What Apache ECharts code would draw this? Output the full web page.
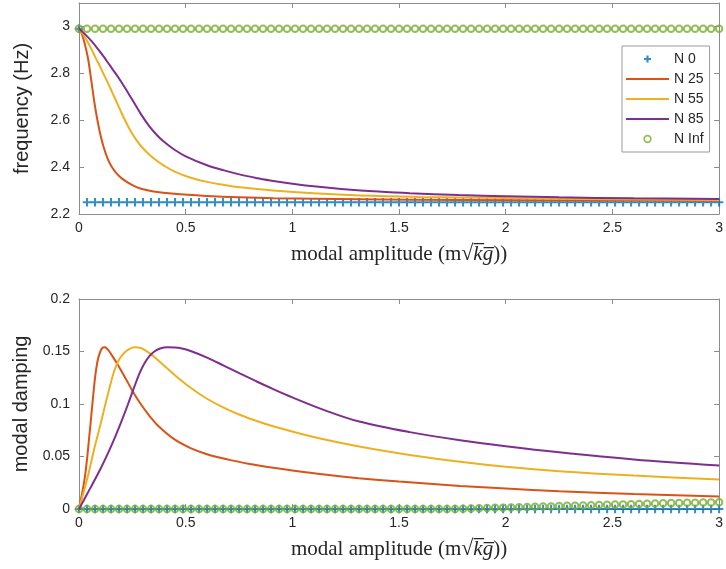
<!DOCTYPE html>
<html>
<head>
<meta charset="utf-8">
<script src="https://cdn.jsdelivr.net/npm/echarts/dist/echarts.min.js"></script>
<style>
html,body{margin:0;padding:0;background:#fff;}
#chart{width:726px;height:569px;}
</style>
</head>
<body>
<div id="chart"></div>
<script>
// ---------- data ----------
const xTicks = [0, 0.5, 1, 1.5, 2, 2.5, 3];
const seriesNames = ['N 0', 'N 25', 'N 55', 'N 85', 'N Inf'];

const markerX = [0,0.0375,0.075,0.1125,0.15,0.1875,0.225,0.2625,0.3,0.3375,0.375,0.4125,0.45,0.4875,0.525,0.5625,0.6,0.6375,0.675,0.7125,0.75,0.7875,0.825,0.8625,0.9,0.9375,0.975,1.0125,1.05,1.0875,1.125,1.1625,1.2,1.2375,1.275,1.3125,1.35,1.3875,1.425,1.4625,1.5,1.5375,1.575,1.6125,1.65,1.6875,1.725,1.7625,1.8,1.8375,1.875,1.9125,1.95,1.9875,2.025,2.0625,2.1,2.1375,2.175,2.2125,2.25,2.2875,2.325,2.3625,2.4,2.4375,2.475,2.5125,2.55,2.5875,2.625,2.6625,2.7,2.7375,2.775,2.8125,2.85,2.8875,2.925,2.9625,3];

// frequency, N 0 (markers)
const freqN0 = [2.99,2.25,2.25,2.25,2.25,2.25,2.25,2.25,2.25,2.25,2.25,2.25,2.25,2.25,2.25,2.25,2.25,2.25,2.25,2.25,2.25,2.25,2.25,2.25,2.25,2.25,2.25,2.25,2.25,2.25,2.25,2.25,2.25,2.25,2.25,2.25,2.25,2.25,2.25,2.25,2.25,2.25,2.25,2.25,2.25,2.25,2.25,2.25,2.25,2.25,2.25,2.25,2.25,2.25,2.25,2.25,2.25,2.25,2.25,2.25,2.25,2.25,2.25,2.25,2.25,2.25,2.25,2.25,2.25,2.25,2.25,2.25,2.25,2.25,2.25,2.25,2.25,2.25,2.25,2.25,2.25];
// frequency, N Inf (markers)
const freqNInf = [2.99,2.99,2.99,2.99,2.99,2.99,2.99,2.99,2.99,2.99,2.99,2.99,2.99,2.99,2.99,2.99,2.99,2.99,2.99,2.99,2.99,2.99,2.99,2.99,2.99,2.99,2.99,2.99,2.99,2.99,2.99,2.99,2.99,2.99,2.99,2.99,2.99,2.99,2.99,2.99,2.99,2.99,2.99,2.99,2.99,2.99,2.99,2.99,2.99,2.99,2.99,2.99,2.99,2.99,2.99,2.99,2.99,2.99,2.99,2.99,2.99,2.99,2.99,2.99,2.99,2.99,2.99,2.99,2.99,2.99,2.99,2.99,2.99,2.99,2.99,2.99,2.99,2.99,2.99,2.99,2.99];
// damping, N 0 (markers)
const dampN0 = [0,0,0,0,0,0,0,0,0,0,0,0,0,0,0,0,0,0,0,0,0,0,0,0,0,0,0,0,0,0,0,0,0,0,0,0,0,0,0,0,0,0,0,0,0,0,0,0,0,0,0,0,0,0,0,0,0,0,0,0,0,0,0,0,0,0,0,0,0,0,0,0,0,0,0,0,0,0,0,0,0];
// damping, N Inf (markers)
const dampNInf = [0,0,0,0,0,0,0,0,0,0,0,0,0,0,0,0,0,0,0,0,0,0,0,0,0,0,0,0,0,0,0,0,0,0,0,0,0,0,0,0,0,0,0,0,0,0,0,0,0.0003,0.0005,0.0007,0.0009,0.0011,0.0013,0.0015,0.0017,0.0019,0.0021,0.0023,0.0025,0.0028,0.003,0.0032,0.0034,0.0036,0.0038,0.004,0.0042,0.0044,0.0046,0.0048,0.005,0.0052,0.0054,0.0056,0.0057,0.0059,0.006,0.0062,0.0063,0.0065];

// frequency curves [x, y]
const freqN25 = [[0,2.99],[0.01,2.975],[0.02,2.95],[0.03,2.915],[0.043,2.86],[0.059,2.76],[0.074,2.665],[0.086,2.602],[0.098,2.548],[0.115,2.487],[0.136,2.432],[0.155,2.399],[0.175,2.374],[0.2,2.352],[0.25,2.323],[0.291,2.308],[0.35,2.296],[0.446,2.286],[0.6,2.277],[0.75,2.271],[0.91,2.267],[1.31,2.263],[1.8,2.26],[2.4,2.258],[3,2.257]];
const freqN55 = [[0,2.99],[0.02,2.965],[0.04,2.935],[0.059,2.902],[0.078,2.866],[0.098,2.83],[0.117,2.794],[0.136,2.758],[0.155,2.72],[0.175,2.68],[0.195,2.64],[0.214,2.603],[0.233,2.569],[0.252,2.539],[0.27,2.514],[0.291,2.489],[0.33,2.453],[0.368,2.425],[0.4,2.405],[0.446,2.382],[0.52,2.356],[0.6,2.337],[0.68,2.324],[0.756,2.314],[0.91,2.3],[1.1,2.288],[1.32,2.279],[1.6,2.273],[2,2.268],[2.5,2.263],[3,2.26]];
const freqN85 = [[0,2.99],[0.03,2.965],[0.059,2.937],[0.09,2.902],[0.115,2.872],[0.136,2.845],[0.16,2.814],[0.19,2.775],[0.214,2.741],[0.25,2.687],[0.291,2.625],[0.33,2.574],[0.368,2.534],[0.4,2.507],[0.446,2.475],[0.5,2.446],[0.6,2.408],[0.68,2.386],[0.756,2.368],[0.83,2.354],[0.91,2.341],[1.1,2.318],[1.32,2.3],[1.55,2.289],[1.78,2.281],[2,2.276],[2.25,2.271],[2.6,2.267],[3,2.264]];

// damping curves [x, y]
const dampN25 = [[0,0],[0.028,0.031],[0.051,0.075],[0.074,0.123],[0.086,0.14],[0.098,0.149],[0.11,0.1535],[0.121,0.154],[0.135,0.152],[0.152,0.147],[0.183,0.137],[0.214,0.126],[0.252,0.112],[0.291,0.0995],[0.33,0.0888],[0.368,0.0798],[0.446,0.0665],[0.52,0.0583],[0.6,0.0522],[0.7,0.0470],[0.8,0.0429],[0.91,0.0392],[1.0,0.0366],[1.15,0.0328],[1.31,0.0294],[1.5,0.0261],[1.786,0.022],[2.0,0.0195],[2.25,0.017],[2.6,0.0143],[3,0.012]];
const dampN55 = [[0,0],[0.04,0.03],[0.074,0.0595],[0.1,0.08],[0.121,0.0976],[0.145,0.117],[0.167,0.1326],[0.19,0.143],[0.214,0.149],[0.237,0.1525],[0.26,0.154],[0.285,0.1535],[0.307,0.1516],[0.34,0.147],[0.368,0.1422],[0.41,0.1345],[0.446,0.128],[0.523,0.1155],[0.6,0.105],[0.68,0.0963],[0.756,0.0895],[0.83,0.084],[0.91,0.0788],[1.1,0.0685],[1.313,0.0595],[1.55,0.0515],[1.786,0.0451],[2.0,0.0403],[2.25,0.036],[2.6,0.0318],[3,0.0282]];
const dampN85 = [[0,0],[0.04,0.015],[0.074,0.0278],[0.105,0.04],[0.136,0.0532],[0.167,0.0675],[0.198,0.083],[0.23,0.1],[0.26,0.1167],[0.285,0.1298],[0.307,0.1388],[0.33,0.1455],[0.353,0.15],[0.38,0.1528],[0.415,0.154],[0.45,0.1537],[0.477,0.153],[0.523,0.1505],[0.6,0.1442],[0.678,0.1366],[0.756,0.1289],[0.83,0.1217],[0.91,0.1142],[1.0,0.1063],[1.15,0.0942],[1.313,0.0833],[1.55,0.0732],[1.786,0.0655],[2.0,0.0598],[2.25,0.054],[2.6,0.0472],[3,0.0414]];

// ---------- style ----------
const COLORS = ['#0072BD', '#D95319', '#EDB120', '#7E2F8E', '#77AC30'];
const SANS = '"Liberation Sans", Arial, Helvetica, sans-serif';
const SERIF = '"Liberation Serif", "DejaVu Serif", "Times New Roman", serif';
const AXIS_COLOR = '#8c8c8c';
const TEXT_COLOR = '#262626';

const plusSym = 'path://M3.8,0H6.2V3.8H10V6.2H6.2V10H3.8V6.2H0V3.8H3.8Z';
const iconLine = 'path://M0,0M43,14M0,6H43V8H0Z';
const iconPlus = 'path://M0,0M43,14M20.4,3.5H22.6V5.9H25V8.1H22.6V10.5H20.4V8.1H18V5.9H20.4Z';
const iconRing = 'path://M0,0M43,14M17.3,7A4.2,4.2 0 1,1 25.7,7A4.2,4.2 0 1,1 17.3,7ZM19,7A2.5,2.5 0 1,0 24,7A2.5,2.5 0 1,0 19,7Z';

const pair = (xs, ys) => xs.map((x, i) => [x, ys[i]]);

const xName = '{a|modal amplitude (m}{b|√}{c|k\u0305g\u0305}{a|))}';
const xNameStyle = {
  color: TEXT_COLOR,
  rich: {
    a: {fontFamily: SERIF, fontSize: 21, color: TEXT_COLOR},
    b: {fontFamily: SERIF, fontSize: 22, color: TEXT_COLOR},
    c: {fontFamily: SERIF, fontSize: 21, fontStyle: 'italic', color: TEXT_COLOR}
  }
};

function bottomX(grid) {
  return {
    type: 'value', gridIndex: grid, position: 'bottom', min: 0, max: 3, interval: 0.5,
    name: xName, nameLocation: 'middle', nameGap: 29, nameTextStyle: xNameStyle,
    axisLine: {show: true, onZero: false, lineStyle: {color: AXIS_COLOR, width: 1}},
    axisTick: {show: true, inside: true, length: 5, lineStyle: {color: AXIS_COLOR}},
    axisLabel: {show: true, fontFamily: SANS, fontSize: 14, color: TEXT_COLOR, margin: 7},
    splitLine: {show: false}
  };
}
function topX(grid) {
  return {
    type: 'value', gridIndex: grid, position: 'top', min: 0, max: 3, interval: 0.5,
    axisLine: {show: true, onZero: false, lineStyle: {color: AXIS_COLOR, width: 1}},
    axisTick: {show: true, inside: true, length: 5, lineStyle: {color: AXIS_COLOR}},
    axisLabel: {show: false}, splitLine: {show: false}
  };
}
function leftY(grid, min, max, interval, name) {
  return {
    type: 'value', gridIndex: grid, position: 'left', min: min, max: max, interval: interval,
    name: name, nameLocation: 'middle', nameGap: 47,
    nameTextStyle: {fontFamily: SANS, fontSize: 20, color: TEXT_COLOR},
    axisLine: {show: true, onZero: false, lineStyle: {color: AXIS_COLOR, width: 1}},
    axisTick: {show: true, inside: true, length: 5, lineStyle: {color: AXIS_COLOR}},
    axisLabel: {show: true, fontFamily: SANS, fontSize: 14, color: TEXT_COLOR, margin: 9, showMaxLabel: max === 0.2},
    splitLine: {show: false}
  };
}
function rightY(grid, min, max, interval) {
  return {
    type: 'value', gridIndex: grid, position: 'right', min: min, max: max, interval: interval,
    axisLine: {show: true, onZero: false, lineStyle: {color: AXIS_COLOR, width: 1}},
    axisTick: {show: true, inside: true, length: 5, lineStyle: {color: AXIS_COLOR}},
    axisLabel: {show: false}, splitLine: {show: false}
  };
}

function markerSeries(name, color, data, xi, yi, kind) {
  const s = {
    name: name, type: 'scatter', xAxisIndex: xi, yAxisIndex: yi, data: data,
    clip: false, silent: true
  };
  if (kind === 'plus') {
    s.symbol = plusSym; s.symbolSize = 8.5;
    s.itemStyle = {color: color};
  } else {
    s.symbol = 'circle'; s.symbolSize = 6.5;
    s.itemStyle = {color: 'rgba(255,255,255,0)', borderColor: color, borderWidth: 2};
  }
  return s;
}
function lineSeries(name, color, data, xi, yi) {
  return {
    name: name, type: 'line', xAxisIndex: xi, yAxisIndex: yi, data: data,
    showSymbol: false, symbol: 'none', smooth: 0.35,
    lineStyle: {color: color, width: 2}, itemStyle: {color: color}, silent: true
  };
}

const option = {
  animation: false,
  backgroundColor: '#fff',
  grid: [
    {left: 79, right: 2, top: 3, height: 211},
    {left: 79, right: 2, top: 299, height: 210}
  ],
  xAxis: [bottomX(0), topX(0), bottomX(1), topX(1)],
  yAxis: [
    leftY(0, 2.2, 3.1, 0.2, 'frequency (Hz)'),
    rightY(0, 2.2, 3.1, 0.2),
    leftY(1, 0, 0.2, 0.05, 'modal damping'),
    rightY(1, 0, 0.2, 0.05)
  ],
  legend: {
    orient: 'vertical', left: 622, top: 46,
    itemWidth: 43, itemHeight: 14, itemGap: 6,
    padding: [6, 6, 6, 4],
    borderColor: '#9a9a9a', borderWidth: 1, backgroundColor: '#fff',
    selectedMode: false,
    textStyle: {fontFamily: SANS, fontSize: 14, color: TEXT_COLOR},
    data: [
      {name: seriesNames[0], icon: iconPlus, itemStyle: {color: COLORS[0], borderWidth: 0}},
      {name: seriesNames[1], icon: iconLine, itemStyle: {color: COLORS[1], borderWidth: 0}},
      {name: seriesNames[2], icon: iconLine, itemStyle: {color: COLORS[2], borderWidth: 0}},
      {name: seriesNames[3], icon: iconLine, itemStyle: {color: COLORS[3], borderWidth: 0}},
      {name: seriesNames[4], icon: iconRing, itemStyle: {color: COLORS[4], borderWidth: 0}}
    ]
  },
  series: [
    markerSeries(seriesNames[0], COLORS[0], pair(markerX, freqN0), 0, 0, 'plus'),
    lineSeries(seriesNames[1], COLORS[1], freqN25, 0, 0),
    lineSeries(seriesNames[2], COLORS[2], freqN55, 0, 0),
    lineSeries(seriesNames[3], COLORS[3], freqN85, 0, 0),
    markerSeries(seriesNames[4], COLORS[4], pair(markerX, freqNInf), 0, 0, 'ring'),

    markerSeries(seriesNames[0], COLORS[0], pair(markerX, dampN0), 2, 2, 'plus'),
    lineSeries(seriesNames[1], COLORS[1], dampN25, 2, 2),
    lineSeries(seriesNames[2], COLORS[2], dampN55, 2, 2),
    lineSeries(seriesNames[3], COLORS[3], dampN85, 2, 2),
    markerSeries(seriesNames[4], COLORS[4], pair(markerX, dampNInf), 2, 2, 'ring')
  ]
};

const chart = echarts.init(document.getElementById('chart'), null, {renderer: 'canvas'});
chart.setOption(option);
</script>
</body>
</html>
